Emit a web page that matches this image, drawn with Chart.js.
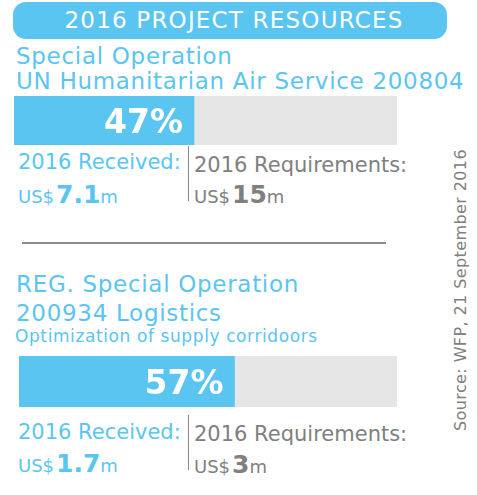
<!DOCTYPE html>
<html>
<head>
<meta charset="utf-8">
<script src="https://cdn.jsdelivr.net/npm/chart.js@4"></script>
<style>
  body { margin: 0; width: 477px; height: 495px; background: #fff; position: relative; overflow: hidden; font-family: "DejaVu Sans", Verdana, sans-serif; }
  .abs { position: absolute; white-space: nowrap; }
  .blue { color: #5bc5f2; }
  .grey { color: #808080; }
  #title { left: 13px; top: 2px; width: 426px; padding-left: 8px; height: 37px; border-radius: 13px; background: #5bc5f2; color: #fff; font-size: 23px; line-height: 37px; text-align: center; letter-spacing: 1.2px; }
  .head { font-size: 23px; line-height: 23px; letter-spacing: 0.7px; }
  .sub { font-size: 17px; line-height: 17px; letter-spacing: 0.6px; }
  .lab { font-size: 21px; line-height: 21px; }
  .amt { font-size: 18px; line-height: 25px; }
  .amt b { font-size: 25px; margin-left: 2px; }
  .vline { position: absolute; width: 1px; background: #888; }
  canvas { position: absolute; }
  #source { left: 460px; top: 290px; transform: translate(-50%, -50%) rotate(-90deg); font-size: 16px; letter-spacing: 0.4px; color: #808080; }
</style>
</head>
<body>
<div id="title" class="abs">2016 PROJECT RESOURCES</div>

<div class="abs blue head" style="left:16px; top:45px;">Special Operation</div>
<div class="abs blue head" style="left:16px; top:70px;">UN Humanitarian Air Service 200804</div>
<canvas id="bar1" width="383" height="49" style="left:14px; top:96px;"></canvas>
<div class="abs blue lab" style="left:18px; top:152px;">2016 Received:</div>
<div class="abs blue amt" id="rec1" style="left:18px; top:182px;"></div>
<div class="vline" style="left:188px; top:146px; height:55px;"></div>
<div class="abs grey lab" style="left:194px; top:155px;">2016 Requirements:</div>
<div class="abs grey amt" id="req1" style="left:194px; top:182px;"></div>

<div class="abs" style="left:22px; top:242px; width:364px; height:2px; background:#8c8c8c;"></div>

<div class="abs blue head" style="left:16px; top:273px;">REG. Special Operation</div>
<div class="abs blue head" style="left:16px; top:302px;">200934 Logistics</div>
<div class="abs blue sub" style="left:15px; top:328px;">Optimization of supply corridoors</div>
<canvas id="bar2" width="378" height="51" style="left:19px; top:356px;"></canvas>
<div class="abs blue lab" style="left:18px; top:422px;">2016 Received:</div>
<div class="abs blue amt" id="rec2" style="left:18px; top:451px;"></div>
<div class="vline" style="left:188px; top:415px; height:55px;"></div>
<div class="abs grey lab" style="left:194px; top:424px;">2016 Requirements:</div>
<div class="abs grey amt" id="req2" style="left:194px; top:452px;"></div>

<div id="source" class="abs">Source: WFP, 21 September 2016</div>

<script>
// funding per project, US$ millions
const projects = ['UN Humanitarian Air Service 200804', '200934 Logistics'];
const fundedPct = [47, 57];
const receivedUSD = [7.1, 1.7];
const requiredUSD = [15, 3];

const blue = '#5bc5f2';
const lightGrey = '#e6e6e6';

// draws the "47%" label inside the blue part
const pctLabel = {
  id: 'pctLabel',
  afterDatasetsDraw(chart) {
    const bar = chart.getDatasetMeta(0).data[0];
    const ctx = chart.ctx;
    ctx.save();
    ctx.fillStyle = '#fff';
    ctx.font = 'bold 33px "DejaVu Sans", Verdana, sans-serif';
    ctx.textAlign = 'right';
    ctx.textBaseline = 'alphabetic';
    ctx.fillText(chart.data.datasets[0].data[0] + '%', bar.x - 11, bar.y + 12);
    ctx.restore();
  }
};

function drawBar(id, i) {
  new Chart(document.getElementById(id), {
    type: 'bar',
    data: {
      labels: [projects[i]],
      datasets: [
        { label: 'Received', data: [fundedPct[i]], backgroundColor: blue },
        { label: 'Gap', data: [100 - fundedPct[i]], backgroundColor: lightGrey }
      ]
    },
    options: {
      indexAxis: 'y',
      responsive: false,
      animation: false,
      layout: { padding: 0 },
      datasets: { bar: { barPercentage: 1, categoryPercentage: 1, borderWidth: 0 } },
      scales: {
        x: { stacked: true, min: 0, max: 100, display: false },
        y: { stacked: true, display: false }
      },
      plugins: { legend: { display: false }, tooltip: { enabled: false } }
    },
    plugins: [pctLabel]
  });
}

drawBar('bar1', 0);
drawBar('bar2', 1);

function money(v) { return 'US$<b>' + v + '</b>m'; }
document.getElementById('rec1').innerHTML = money(receivedUSD[0]);
document.getElementById('req1').innerHTML = money(requiredUSD[0]);
document.getElementById('rec2').innerHTML = money(receivedUSD[1]);
document.getElementById('req2').innerHTML = money(requiredUSD[1]);
</script>
</body>
</html>
